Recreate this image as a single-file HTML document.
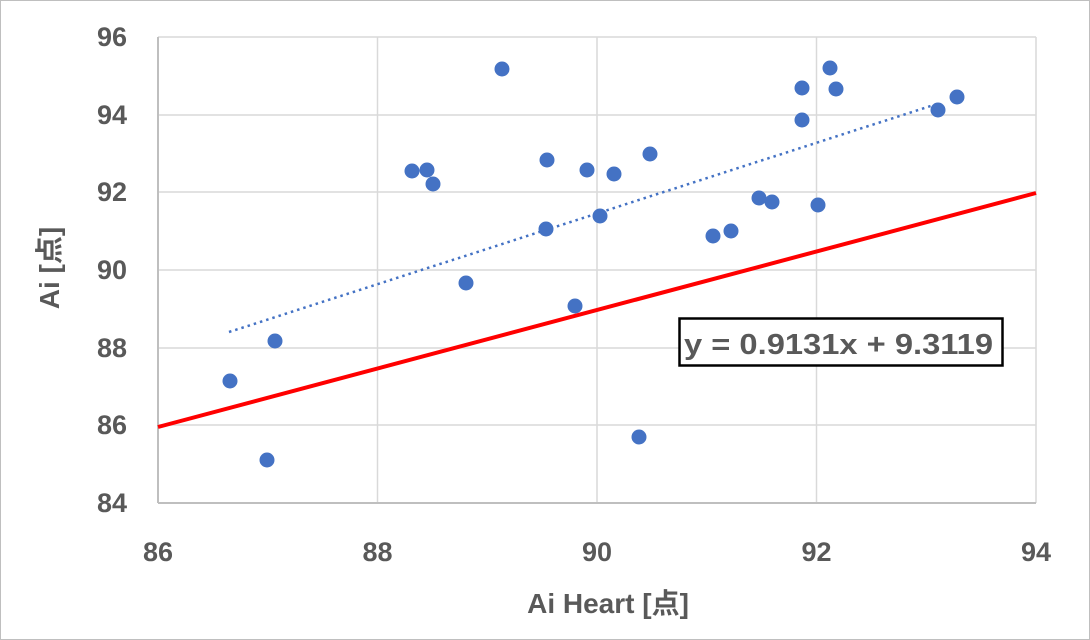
<!DOCTYPE html>
<html><head><meta charset="utf-8"><style>
html,body{margin:0;padding:0;background:#fff;}
svg{display:block;}
text{font-family:"Liberation Sans","Noto Sans CJK JP",sans-serif;font-weight:bold;fill:#595959;}
</style></head><body>
<svg width="1090" height="640" viewBox="0 0 1090 640" xmlns="http://www.w3.org/2000/svg">
<rect x="0.5" y="0.5" width="1089" height="639" fill="#fff" stroke="#bfbfbf"/>
<g stroke="#d9d9d9" stroke-width="1.5">
<line x1="158" y1="37" x2="1036" y2="37"/>
<line x1="158" y1="115" x2="1036" y2="115"/>
<line x1="158" y1="192" x2="1036" y2="192"/>
<line x1="158" y1="270" x2="1036" y2="270"/>
<line x1="158" y1="348" x2="1036" y2="348"/>
<line x1="158" y1="425" x2="1036" y2="425"/>
<line x1="377.5" y1="37" x2="377.5" y2="503"/>
<line x1="597" y1="37" x2="597" y2="503"/>
<line x1="816.5" y1="37" x2="816.5" y2="503"/>
<line x1="1036" y1="37" x2="1036" y2="503"/>
</g>
<g stroke="#bfbfbf" stroke-width="2">
<line x1="158" y1="37" x2="158" y2="503"/>
<line x1="158" y1="503" x2="1036" y2="503"/>
</g>
<g font-size="27" text-anchor="end">
<text x="127" y="46">96</text><text x="127" y="124">94</text><text x="127" y="201">92</text>
<text x="127" y="279">90</text><text x="127" y="357">88</text><text x="127" y="434">86</text>
<text x="127" y="512">84</text>
</g>
<g font-size="27" text-anchor="middle">
<text x="158" y="561">86</text><text x="377.5" y="561">88</text><text x="597" y="561">90</text>
<text x="816.5" y="561">92</text><text x="1036" y="561">94</text>
</g>
<text x="608" y="613" font-size="28" text-anchor="middle">Ai Heart [点]</text>
<text transform="translate(59,268) rotate(-90)" font-size="28" text-anchor="middle">Ai [点]</text>
<line x1="158" y1="427" x2="1036" y2="193" stroke="#ff0000" stroke-width="4"/>
<line x1="229" y1="332" x2="940" y2="103" stroke="#4472c4" stroke-width="2.5" stroke-dasharray="2.5,4"/>
<g fill="#4472c4">
<circle cx="230" cy="381" r="7.5"/><circle cx="267" cy="460" r="7.5"/><circle cx="275" cy="341" r="7.5"/>
<circle cx="412" cy="171" r="7.5"/><circle cx="427" cy="170" r="7.5"/><circle cx="433" cy="184" r="7.5"/>
<circle cx="466" cy="283" r="7.5"/><circle cx="502" cy="69" r="7.5"/><circle cx="546" cy="229" r="7.5"/>
<circle cx="547" cy="160" r="7.5"/><circle cx="575" cy="306" r="7.5"/><circle cx="587" cy="170" r="7.5"/>
<circle cx="600" cy="216" r="7.5"/><circle cx="614" cy="174" r="7.5"/><circle cx="639" cy="437" r="7.5"/>
<circle cx="650" cy="154" r="7.5"/><circle cx="713" cy="236" r="7.5"/><circle cx="731" cy="231" r="7.5"/>
<circle cx="759" cy="198" r="7.5"/><circle cx="772" cy="202" r="7.5"/><circle cx="802" cy="88" r="7.5"/>
<circle cx="802" cy="120" r="7.5"/><circle cx="818" cy="205" r="7.5"/><circle cx="830" cy="68" r="7.5"/>
<circle cx="836" cy="89" r="7.5"/><circle cx="938" cy="110" r="7.5"/><circle cx="957" cy="97" r="7.5"/>
</g>
<rect x="679.5" y="318.5" width="323" height="47" fill="#fff" stroke="#000" stroke-width="2.5"/>
<text x="684" y="354" font-size="29" textLength="309" lengthAdjust="spacingAndGlyphs">y = 0.9131x + 9.3119</text>
</svg>
</body></html>
